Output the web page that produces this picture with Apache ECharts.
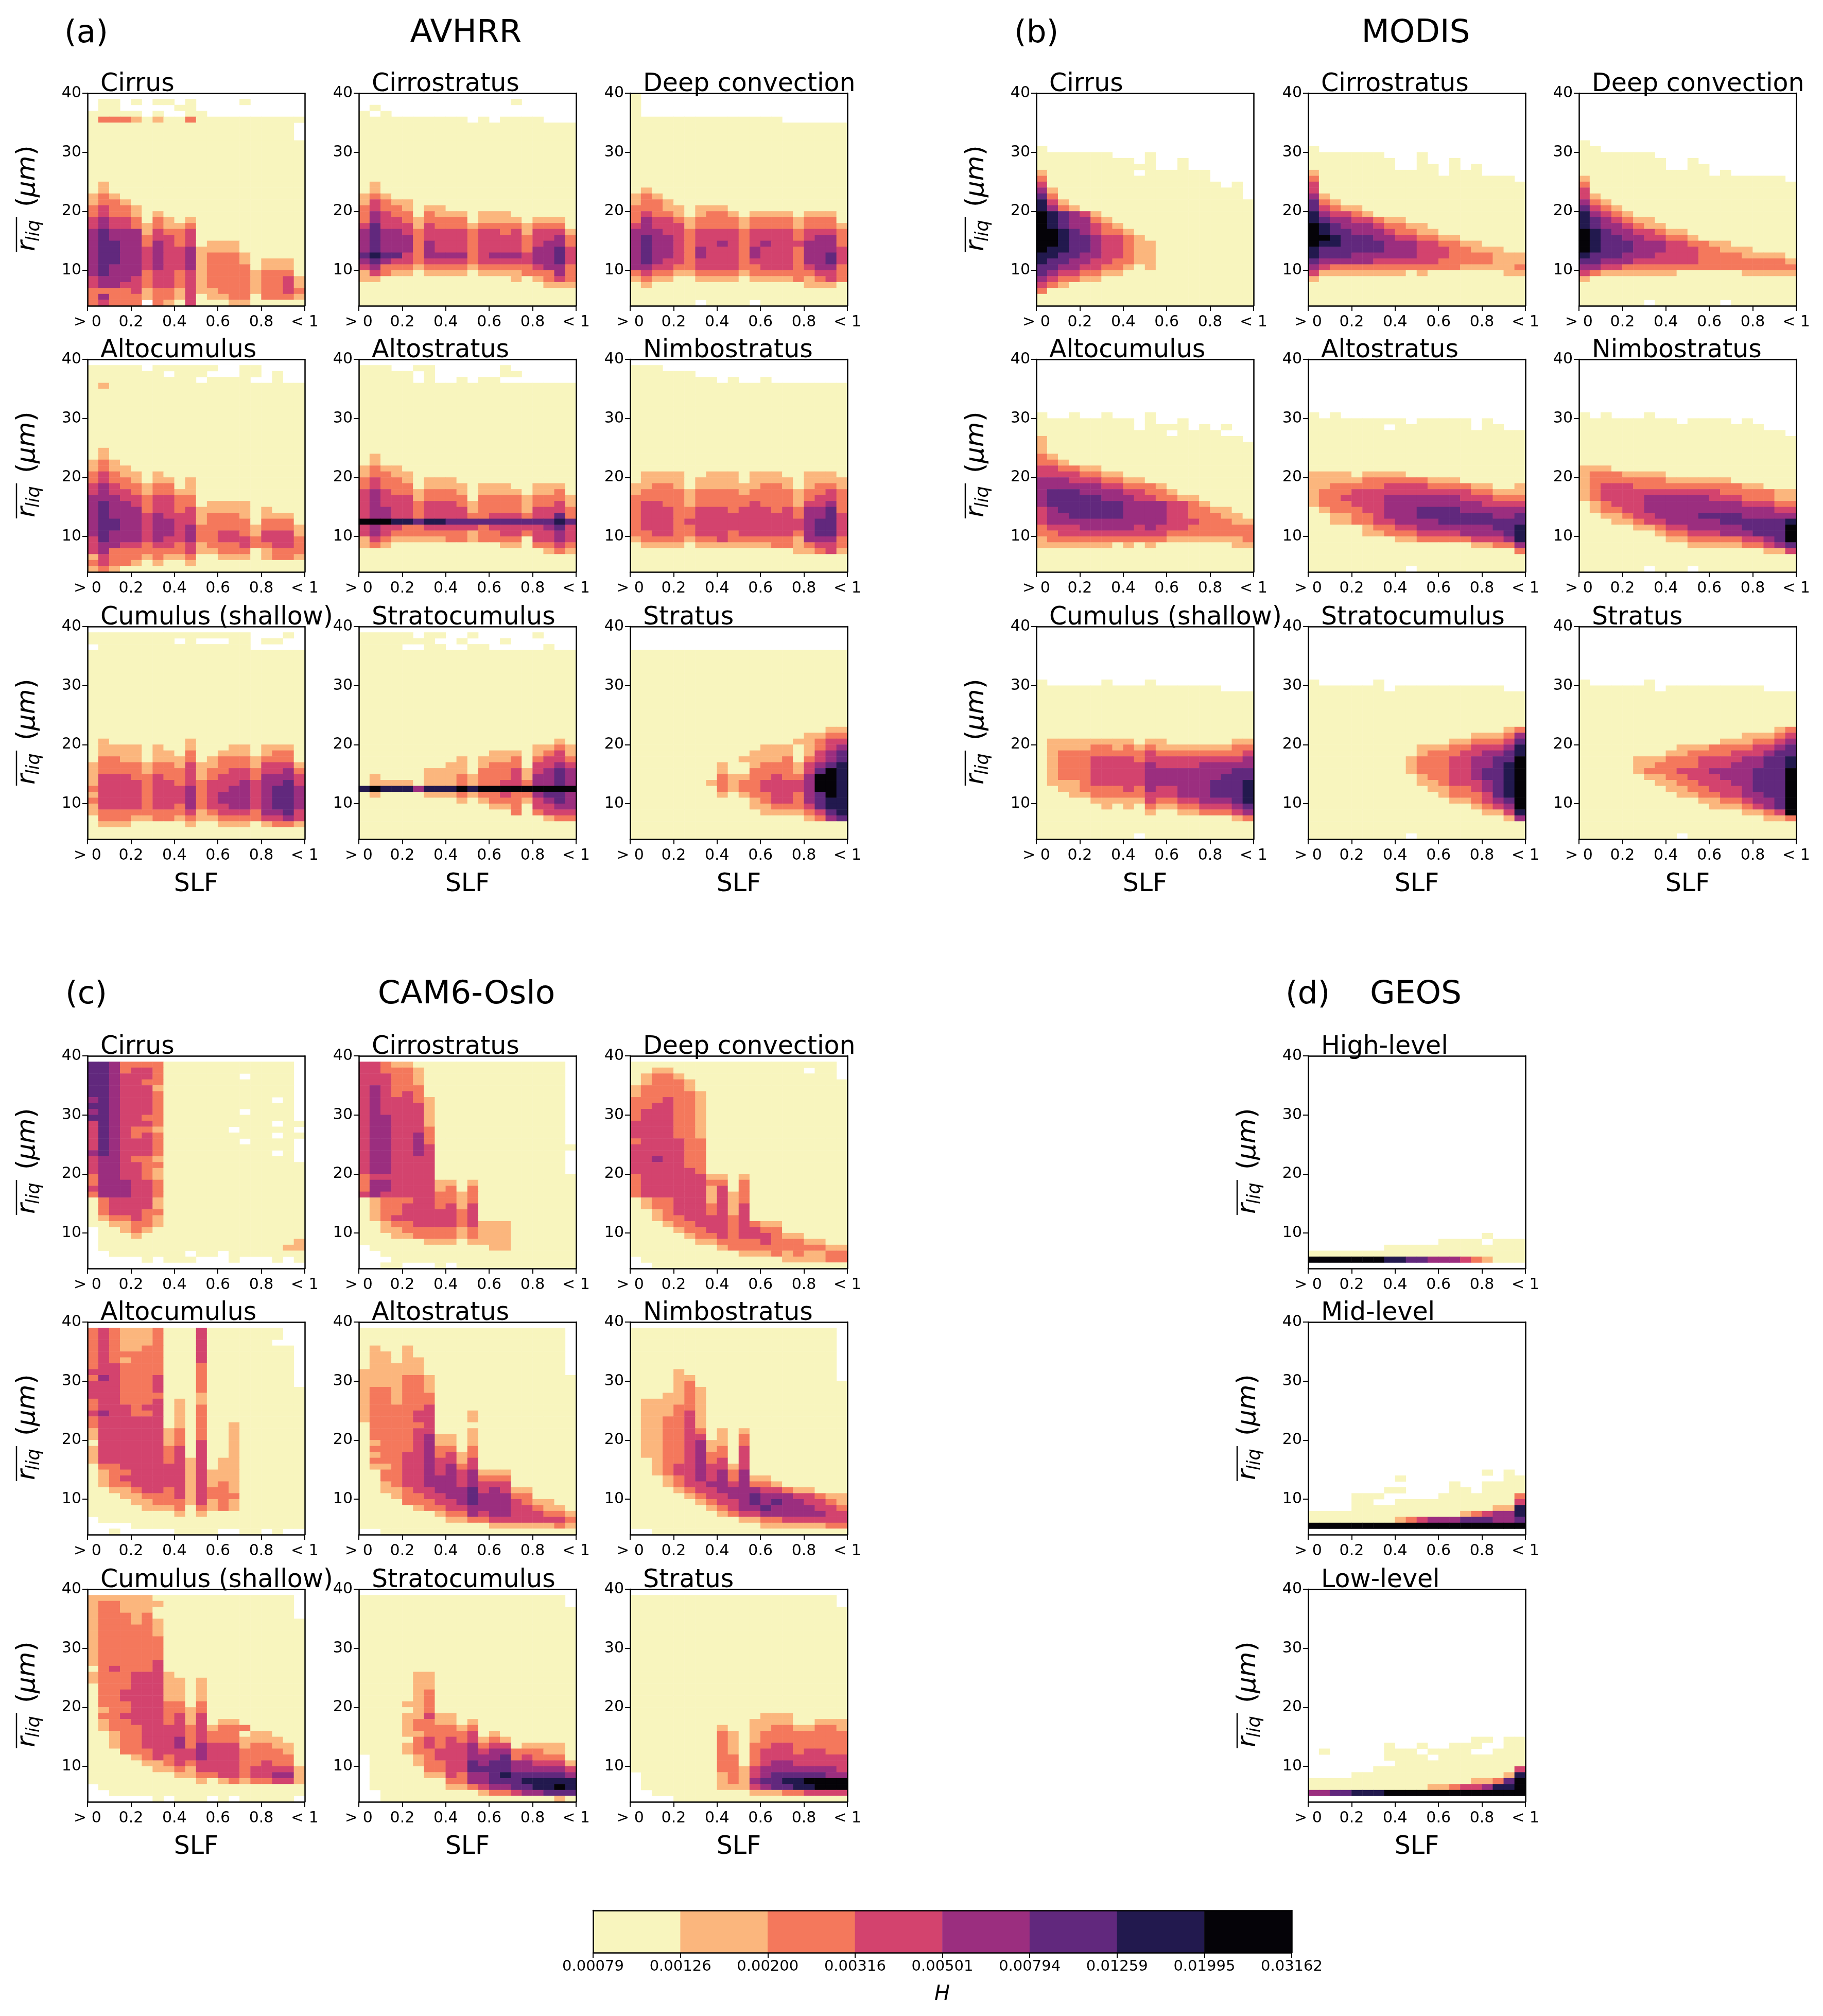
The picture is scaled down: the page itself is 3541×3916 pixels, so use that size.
<!DOCTYPE html>
<html>
<head>
<meta charset="utf-8">
<title>SLF vs rliq</title>
<script src="https://cdn.jsdelivr.net/npm/echarts@6/dist/echarts.min.js"></script>
<style>
  html, body { margin: 0; padding: 0; background: #fff; }
  #main { width: 3541px; height: 3916px; }
</style>
</head>
<body>
<div id="main"></div>
<script>
  // H colour bands
  const bandEdges = [0.00079, 0.00126, 0.002, 0.00316, 0.00501, 0.00794, 0.01259, 0.01995, 0.03162];
  const bandLabels = ['0.00079', '0.00126', '0.00200', '0.00316', '0.00501', '0.00794', '0.01259', '0.01995', '0.03162'];
  const bandColors = ['#F8F5BE', '#FBB67D', '#F4785C', '#D3436E', '#9B2E7F', '#61287D', '#22194E', '#050308'];
  // representative H for a cell in band 1..8
  const bandValues = [0.001, 0.0016, 0.0025, 0.004, 0.0063, 0.01, 0.0158, 0.0251];
  const slfTicks = ['> 0', '0.2', '0.4', '0.6', '0.8', '< 1'];
  const rliqTicks = [10, 20, 30, 40];

  // Cells: one string per 1 um row, from 39-40 down to 4-5,
  // one character per 0.05 SLF column. '.' is an empty cell, 1-8 the colour band.
  // "n|" repeats a row n times, cells left off the end of a row are band 1.
  const avhrrCirrus = ['....................', '.11.1.11.1....1.....', '.11.....11..........', '11111.1..11.........', '1333212113', '3|1111111111111111111.', '7|1',
    '12', '12', '232', '2332', '34332', '3433212', '4544313212', '4544323223', '5655524334', '5655534434', '56655354341222', '56655454452222', '566554544523332',
    '56655454452333212221', '56555454452333312221', '56555344342333323331', '45554344342333323342', '45544344342333323342', '33334233242233323343', '35333233241223313332', '34333.32141112211111'];
  const avhrrCirrostratus = ['....................', '..............1.....', '.1..................', '1.1.................', '1111111111.1.1111...', '10|1',
    '12', '12', '232', '24322', '34332122', '35433132221222', '35443233331222212221', '46444243332333323331', '56554344443443424442', '56555344443444434453', '56555354443444434553', '56555354443444435564',
    '67664355553455545564', '56544344443444445564', '45333233332333334553', '24322122221222233353', '22111111111111212343', '11111111111111111222', '3|1'];
  const avhrrDeepConvection = ['1...................', '1...................', '1...................', '1...................', '11111111111111......', '11|1',
    '12', '232', '2332', '3332212221', '34332123321222212221', '35443233332333323331', '45444233332333323332', '55544344443444434443', '56554344443444434553', '56554344543454445553', '56554354443544435554',
    '56554354443544435564', '56544344443444435564', '55443344443344434553', '34332233332333333443', '23221122221222232343', '1211111111111111222', '1', '1', '111111.1111.'];
  const avhrrAltocumulus = ['....................', '11111.111111..11....', '1111111.111...11.1..', '1111111111.1111..1..', '12', '10|1',
    '12', '12', '232', '2322', '3432212', '3433212212', '4543323312', '4544323322', '5554434433', '565543443312222', '56555344342222212', '56555454442333212221', '56655455442333313331',
    '56655455453333323332', '56555455453344324442', '46555454453344434443', '45544344342333433443', '45333333342233312333', '24333232231122212332', '3433212112', '232'];
  const avhrrAltostratus = ['....................', '111..11......1......', '11111.1......11.....', '11111.1..1.11.......', '12|1',
    '12', '12', '2322', '23322', '343321222', '34333122221222112221', '45433233321222212231', '45444233331333323332', '45444344432333323342', '45544344442333324443', '45544344443344434463',
    '88877677666666666676', '45443344444344444564', '45433333332334434454', '24322222332333314454', '23211111111112213343', '11111111111111111232', '3|1'];
  const avhrrNimbostratus = ['....................', '111.................', '111111..............', '11111111.1..1.......', '15|1',
    '12222112221222112221', '12222122221222212222', '22332122222233212332', '23333233332333323343', '33333233333333323443', '34433233333433324453', '34443344434443435563', '34443344444444435564',
    '34443444444444445664', '34443344444444445664', '33443344434444435664', '23333233433333325553', '12222122222223323443', '11111111111111122342', '3|1'];
  const avhrrCumulus = ['....................', '111111111111111...1.', '11111111.1...11.11..', '.11111111111111.....', '15|1',
    '1211111112', '12222121121112212221', '12222122131122212331', '13322122231233323331', '23333233242233324442', '23333233342334434453', '24443343342344435554', '24444344343444545564',
    '34444344453445545665', '24444344453455545665', '34444344453455545665', '24444344353445545665', '23333333342344435564', '13332233232233334454', '12221111121122212332', '2|1'];
  const avhrrStratocumulus = ['....................', '11111.11..1.....1...', '1111111..1...1......', '1111..11..11.....1..', '15|1',
    '11111111111111111121', '11111111111111112232', '11111111111122212342', '11111111121222313443', '11111111221233314454', '11111122221333424565', '12111122232333425565', '12222122232334435565',
    '78777577787888888888', '12111122232334335665', '11111111121233324565', '11111111111122314455', '11111111111111313444', '11111111111111111233', '3|1'];
  const avhrrStratus = ['4|....................', '13|1',
    '11111111111111111122', '11111111111111112233', '11111111111111122344', '11111111111122212345', '11111111111222212456', '11111111112222313456', '11111111211233324567', '11111111211333324687',
    '11111111322334335887', '11111112323344445887', '11111111323344445887', '11111111212334435687', '11111111111234435677', '11111111111223334677', '11111111111122223467', '11111111111111112356', '3|1'];

  const modisCirrus = ['9|....................', '1...................', '1111111...1.........', '111111111.1..1......', '11111111111..1......', '211111111.111111....', '3111111111111111....', '41111111111111111.1.', '5211111111111111111.', '6311111111111111111.',
    '742', '7532', '876542', '8765532', '87655432', '887654332', '8876654432', '88766544322', '87766544322', '77665544322', '76655443322', '66554433212', '65443322', '543322', '432', '3', '2|1'];
  const modisCirrostratus = ['9|....................', '1...................', '1111111...1.........', '11111111..1..1......', '11111111..11.1.1....', '211111111111.111....', '3111111111111111111.',
    '4', '4', '52', '632', '64322', '754432', '765544322', '87655543322', '876655543322', '88766655443322', '87766665554433221111', '76666665554443322211', '76665555554443333222', '65555544444433333222', '54333333333333222223', '42222222212111111122', '2', '4|1'];
  const modisDeepConvection = ['8|....................', '1...................', '11..................', '1111111.............', '11111111..1.........', '11111111..11........', '111111111111.1......', '2111111111111111111.',
    '3', '4', '42', '532', '6432', '75432', '7654322', '76554322', '8765544322', '87665544332', '87666555443322', '8766655544433222', '7666555444433332222', '66555444444333333332', '55443333333333333333', '43222222211111122222', '2', '1', '1', '1', '111111.111111.'];
  const modisAltocumulus = ['9|....................', '1..1..1...1.........', '111111111.1..1......', '111111111.1111.1.1..', '111111111111.1111...', '2111111111111111111.',
    '2', '2', '32', '332', '443322', '44443322', '5554443322', '555555443332', '5666555544332', '566666555443322', '5666666655554432', '45666666555544332211', '45566666555544333221', '45555555555544433322', '34445555545444333333', '33444444444433333333', '23333333333322222223', '22222221212111111122', '4|1'];
  const modisAltostratus = ['9|....................', '1.1.................', '111111111.11111.1...', '1111111.1111111.11..', '7|1',
    '222212222', '22222333333222', '22333334444333322112', '23334444444444433222', '23344445555555444333', '23334445555555554444', '12333445556666555555', '11223345556666666556', '11223344555566666666', '11111233445555555667', '11111223334444555567', '11111111223333344457', '11111111111111122335', '11111111111111111113', '2|1', '111111111.1111111111'];
  const modisNimbostratus = ['9|....................', '1.1...1.............', '111111111.1111.1....', '11111111111111111...', '1111111111111111111.', '5|1',
    '2221', '23332222', '23333333222222', '23444333333333322', '23444444444443333322', '23444455555544433322', '12344455555555544433', '12334455555555555544', '11223445555666655555', '11122344555556666667', '11111223445555566668', '11111112334445556668', '11111111223333344568', '11111111112222233456', '11111111111111111224', '1', '1', '111111.111.1111'];
  const modisCumulus = ['9|....................', '1.....1...1.........', '11111111111111111...', '8|1',
    '12222222212211111122', '12222332323222222233', '12333333334333333334', '12333444434444444445', '12333444445444455555', '12333444445555555566', '12333444445555555666', '12223444445555556667', '11223333435445556667', '11122333334445556667', '11111222224334455567', '11111121213223344456', '11111111112112233345', '11111111111111111123', '2|1', '111111111.1111111111'];
  const modisStratocumulus = ['9|....................', '1.....1.............', '1111111.1111111111..', '6|1',
    '11111111111111111123', '11111111111111122235', '11111111111112233346', '11111111112223344457', '11111111112333445567', '11111111123334455668', '11111111123334455678', '11111111123334456678', '11111111112334456678', '11111111112234445678', '11111111111223345678', '11111111111123334678', '11111111111112234568', '11111111111111123458', '11111111111111112247', '11111111111111111125', '2|1', '111111111.1111111111'];
  const modisStratus = ['9|....................', '1.....1.............', '1111111.111111111...', '6|1',
    '11111111111111111123', '11111111111111122234', '11111111111112223345', '11111111122233334456', '11111111223333444566', '11111222333444455667', '11111223333444555667', '11111233344455556668', '11111122334445556668', '11111112233444556668', '11111111223344456668', '11111111122334455668', '11111111111223345568', '11111111111122234568', '11111111111111122348', '11111111111111111223', '2|1', '111111111.1111111111'];

  const camCirrus = ['....................', '6653333111111111111.', '6653443111111111111.', '66544431111111.1111.', '6654433111111111111.', '6654442111111111111.', '6654443111111111111.', '56544431111111111.1.', '6654443111111111111.', '56544431111111.1111.', '6654433111111111111.', '46544431111111111.11', '4654332111111.11111.', '46543431111111111.11', '46544431111111.1111.', '4654443111111111111.', '56544431111111111.1.', '4554332111111111111.',
    '4554433', '4554432', '3554432', '3555443', '4555443', '3555443', '1344442', '1344442', '1344433', '1233432', '1122332', '.112321', '.111211', '.1111111111111111112', '.1111111111111111122', '..1111111.11.1111111', '.....1.111...1...1.1', '....................'];
  const camCirrostratus = ['....................', '4432211111111111111.', '4433321111111111111.', '4443321111111111111.', '4443321111111111111.', '4543331111111111111.', '4543431111111111111.', '4544432111111111111.', '4544442111111111111.', '4544442111111111111.', '4554442111111111111.', '4554442111111111111.', '4554443111111111111.', '4554453111111111111.', '4554453111111111111.', '4554454', '4554454111111111111.', '4554444111111111111.', '4554444111111111111.', '4554444111111111111.',
    '3444444', '35544442212', '35544442313', '45444443323', '12333443323', '12334443424', '12334444434', '12344444434', '11233444434222', '11223333323222', '11122333323222', '11111122212222', '.1111111111122', '..', '...1', '..11...1.'];
  const camDeepConvection = ['....................', '1111111111111111111.', '1122111111111111.11.', '1233211111111111111.', '1233321', '2333321', '2333332', '3334332', '3344332', '3444332', '3444332', '4444332', '4444332', '4444332', '3444433', '4444433', '4444433', '4454433', '4444433', '4444443',
    '34444442212', '34444443313', '34444442413', '34444442423', '12334442423', '12334443424', '11234443424', '11233444434', '11123344434322', '11112334434433', '11111233434443221111', '11111122333343332211', '11111111233333333322', '11111111112223232233', '.1111111111111222233', '..111'];
  const camAltocumulus = ['....................', '343222311141111111..', '343222311141111111..', '34322231114111111...', '3432233111411111111.', '3433333111411111111.', '3432333111411111111.', '3443333111311111111.', '4443333111311111111.', '3543334111311111111.', '4443334111311111111.',
    '44433341113', '44433331112', '34433341212', '34443441213', '45443341213', '34444441213', '34444441213112', '24444442313112', '24444442313112', '14444442314112', '24444443414112', '24444443414112', '24444443424122', '13344444424122', '12334444424222', '12344444424222', '12334444424232', '11223443424332', '11122333424333', '11112233324232', '11111222313232', '11111111212', '.', '....', '..1.....1111..11.1..'];
  const camAltostratus = ['....................', '1111111111111111111.', '1111111111111111111.', '1111111111111111111.', '1211211111111111111.', '1221211111111111111.', '1221221111111111111.', '1222221111111111111.', '2222221111111111111.',
    '2222332', '2222332', '2332332', '2332333', '2332333', '2333334', '23333441112', '23333441112', '1333334', '13333441112', '13333452212', '12333452212', '13333453313', '12334453423', '13334454424', '12234454534', '11334454545222', '11334455545333', '11234455545444', '1122344555645422', '1112334455655533', '111133344565554322', '11111233445555443221', '11111112335455444332', '11111111223344444443', '11111111111122222232', '..'];
  const camNimbostratus = ['....................', '7|1111111111111111111.', '1111211111111111111.', '1111221111111111111.', '1111231', '1111232', '1112232', '1222232', '1222332', '1222342', '1223342', '1223342', '12233431212', '12233441213', '12233452213', '12233452314', '12233453314', '11233453414', '11234454424', '11234454535', '1112345453522', '11123445545332', '11112344555544322', '11111234455655544322', '11111123445656554432', '11111112345565555443', '11111111234455555544', '11111111112233444444', '11111111111122222233', '..'];
  const camCumulus = ['....................', '2222221111111111111.', '2332222111111111111.', '2332221111111111111.', '2333231111111111111.', '2333232', '2333332', '2333332', '2333333', '3|2333333', '2333334', '1343334', '23334442', '23334442212', '13334442212', '13344442212', '13344442212', '13334443313', '12334443323', '13344443424', '12334443424122', '123334444342333', '11233444434333122', '112334445343332222', '1123344453544423322', '1113334444544433332', '11112343445444333331', '11111223434444334331', '11111122324444344442', '11111111223344344552', '11111111112123233442', '.', '..', '......1.111.1.11111.'];
  const camStratocumulus = ['....................', '1111111111111111111.', '1111111111111111111.', '11|1', '1111122', '1111122', '1111122', '1111123', '1111123', '1111223', '1111123', '111122422', '11112332212', '11112333323', '1111223333412', '11111343434232', '1111234344534412222', '1111233444545533322', '.111123444555634333', '.1111233446566554442', '.1111133446666555554', '.1111122435567666665', '.1111111335566677777', '.1111111223455667787', '..111111111233455666', '..111111111111111121'];
  const camStratus = ['....................', '1111111111111111111.', '1111111111111111111.', '18|1',
    '11111111111122211111', '11111111111222211222', '11111111211223322332', '11111111321233333333', '11111111321233333333', '11111111321334433333', '11111111321344434433', '11111111331344444444', '11111111331345544444', '11111111332455555554', '.1111111232456666655', '.1111111232566778888', '.1111111222456677888', '..111111111222334444', '....1'];

  const geosHigh = ['30|....................', '................1...', '............1111.111', '.......1111111111111', '11111111111111111111', '88888887766555432111', '....................'];
  const geosMid = ['25|....................', '................1.1.', '........1.........11', '.............1..1111', '.......11....11.1111', '....111.....11111113', '....11..111111111114', '....1111111111111227', '11111111111111234557', '11111111234555666556', '88888888888888888888', '....................'];
  const geosLow = ['25|....................', '...............11.11', '.......1..1..111..11', '.1.....111.1111..111', '.......1111.11111111', '........111111111111', '......11111111111114', '....1111111111111127', '11111111111111122368', '11111111111223445778', '55667778888888888888', '....................'];

  const cloudTypes = ['Cirrus', 'Cirrostratus', 'Deep convection', 'Altocumulus', 'Altostratus', 'Nimbostratus', 'Cumulus (shallow)', 'Stratocumulus', 'Stratus'];
  const geosTypes = ['High-level', 'Mid-level', 'Low-level'];
  const avhrrPanels = [avhrrCirrus, avhrrCirrostratus, avhrrDeepConvection, avhrrAltocumulus, avhrrAltostratus, avhrrNimbostratus, avhrrCumulus, avhrrStratocumulus, avhrrStratus];
  const modisPanels = [modisCirrus, modisCirrostratus, modisDeepConvection, modisAltocumulus, modisAltostratus, modisNimbostratus, modisCumulus, modisStratocumulus, modisStratus];
  const camPanels = [camCirrus, camCirrostratus, camDeepConvection, camAltocumulus, camAltostratus, camNimbostratus, camCumulus, camStratocumulus, camStratus];
  const geosPanels = [geosHigh, geosMid, geosLow];

  // layout in page pixels
  const panelW = 422, panelH = 413;
  const leftCols = [170, 697, 1224], rightCols = [2013, 2541, 3067];
  const topRows = [181, 698, 1217], lowRows = [2051, 2568, 3087];
  const font = 'DejaVu Sans';

  const binIndex = Array.from({ length: 20 }, (_, i) => i);
  const rowIndex = Array.from({ length: 36 }, (_, i) => i);

  function readCells(spec) {
    let rows = [];
    spec.forEach(s => {
      let n = 1, r = s;
      if (s.indexOf('|') > 0) {
        n = +s.split('|')[0];
        r = s.split('|')[1];
      }
      r = r.padEnd(20, '1');
      for (let k = 0; k < n; k++) rows.push(r);
    });
    if (rows.length !== 36) console.error('bad row count', rows.length, spec[0]);
    let cells = [];
    rows.forEach((row, i) => {
      for (let j = 0; j < 20; j++) {
        if (row[j] !== '.') cells.push([j, 35 - i, bandValues[+row[j] - 1]]);
      }
    });
    return cells;
  }

  let grids = [], xAxes = [], yAxes = [], series = [], graphics = [];

  // text placed by its baseline
  function addText(text, x, baseline, size, align, italic) {
    graphics.push({
      type: 'text', z: 20,
      style: {
        text: text, x: x, y: baseline - 0.346 * size, fill: '#000',
        font: (italic ? 'italic ' : '') + size + 'px "' + font + '"',
        textAlign: align || 'left', textVerticalAlign: 'middle'
      }
    });
  }

  function addYLabel(left, top) {
    let t = (size, italic) => (italic ? 'italic ' : '') + size + 'px "' + font + '"';
    let part = (text, x, y, size, italic) => ({
      type: 'text',
      style: { text: text, x: x, y: y - 0.346 * size, fill: '#000', font: t(size, italic), textVerticalAlign: 'middle' }
    });
    graphics.push({
      type: 'group', z: 20, x: left - 99, y: top + 309, rotation: Math.PI / 2,
      children: [
        part('r', 2, 0, 50, true),
        part('liq', 21, 8, 35, true),
        { type: 'line', shape: { x1: 0, y1: -39, x2: 68, y2: -39 }, style: { stroke: '#000', lineWidth: 2.5 } },
        part('(', 88, 0, 50, false),
        part('μm', 107, 0, 50, true),
        part(')', 188, 0, 50, false)
      ]
    });
  }

  function addPanel(spec, name, left, top, withY, withX) {
    let i = grids.length;
    let line = { show: true, onZero: false, lineStyle: { color: '#000', width: 2.5 } };
    grids.push({ left: left, top: top, width: panelW, height: panelH });
    // band axes carry the cells and draw the top and right spines
    xAxes.push({
      type: 'category', gridIndex: i, position: 'top', data: binIndex, z: 5,
      axisLine: line, axisTick: { show: false }, axisLabel: { show: false }, splitLine: { show: false }
    });
    xAxes.push({
      type: 'value', gridIndex: i, position: 'bottom', min: 0, max: 1, interval: 0.2, z: 5,
      name: withX ? 'SLF' : '', nameLocation: 'middle', nameGap: 64,
      nameTextStyle: { fontFamily: font, fontSize: 49, color: '#000' },
      axisLine: line, axisTick: { length: 10, lineStyle: { color: '#000', width: 2 } }, splitLine: { show: false },
      axisLabel: {
        margin: 17, fontFamily: font, fontSize: 30, color: '#000', showMinLabel: true, showMaxLabel: true,
        formatter: v => slfTicks[Math.round(v * 5)]
      }
    });
    yAxes.push({
      type: 'category', gridIndex: i, position: 'right', data: rowIndex, z: 5,
      axisLine: line, axisTick: { show: false }, axisLabel: { show: false }, splitLine: { show: false }
    });
    yAxes.push({
      type: 'value', gridIndex: i, position: 'left', min: 4, max: 40, z: 5,
      axisLine: line, splitLine: { show: false },
      axisTick: { length: 10, customValues: rliqTicks, lineStyle: { color: '#000', width: 2 } },
      axisLabel: { margin: 12, fontFamily: font, fontSize: 30, color: '#000', customValues: rliqTicks }
    });
    series.push({
      type: 'heatmap', xAxisIndex: i * 2, yAxisIndex: i * 2, data: readCells(spec), z: 2,
      progressive: 0, silent: true, itemStyle: { borderWidth: 0 }
    });
    addText(name, left + 25, top, 49);
    if (withY) addYLabel(left, top);
  }

  function addBlock(panels, names, cols, rows) {
    panels.forEach((spec, k) => {
      let c = names.length === 9 ? k % 3 : 0;
      let r = names.length === 9 ? Math.floor(k / 3) : k;
      addPanel(spec, names[k], cols[c], rows[r], c === 0, r === 2);
    });
  }

  addBlock(avhrrPanels, cloudTypes, leftCols, topRows);
  addBlock(modisPanels, cloudTypes, rightCols, topRows);
  addBlock(camPanels, cloudTypes, leftCols, lowRows);
  addBlock(geosPanels, geosTypes, [rightCols[1]], lowRows);

  // colour bar
  let cbIndex = grids.length;
  grids.push({ left: 1152, top: 3711, width: 1357, height: 82 });
  let cbLine = { show: true, onZero: false, lineStyle: { color: '#000', width: 2.5 } };
  xAxes.push({
    type: 'category', gridIndex: cbIndex, position: 'top', data: bandColors.map((c, k) => k), z: 5,
    axisLine: cbLine, axisTick: { show: false }, axisLabel: { show: false }
  });
  xAxes.push({
    type: 'value', gridIndex: cbIndex, position: 'bottom', min: 0, max: 8, interval: 1, z: 5,
    axisLine: cbLine, splitLine: { show: false },
    axisTick: { length: 10, lineStyle: { color: '#000', width: 2 } },
    axisLabel: { margin: 13, fontFamily: font, fontSize: 29, color: '#000', showMinLabel: true, showMaxLabel: true, formatter: v => bandLabels[v] }
  });
  yAxes.push({
    type: 'category', gridIndex: cbIndex, position: 'right', data: [0], z: 5,
    axisLine: cbLine, axisTick: { show: false }, axisLabel: { show: false }
  });
  yAxes.push({
    type: 'value', gridIndex: cbIndex, position: 'left', min: 0, max: 1, z: 5,
    axisLine: cbLine, axisTick: { show: false }, axisLabel: { show: false }, splitLine: { show: false }
  });
  series.push({
    type: 'heatmap', xAxisIndex: cbIndex * 2, yAxisIndex: cbIndex * 2, z: 2, progressive: 0, silent: true,
    data: bandValues.map((v, k) => [k, 0, v])
  });

  // block headings
  addText('(a)', 125, 87, 61);
  addText('AVHRR', 905, 87, 63, 'center');
  addText('(b)', 1970, 87, 61);
  addText('MODIS', 2750, 87, 63, 'center');
  addText('(c)', 127, 1954, 61);
  addText('CAM6-Oslo', 906, 1954, 63, 'center');
  addText('(d)', 2497, 1954, 61);
  addText('GEOS', 2750, 1954, 63, 'center');
  addText('H', 1830, 3888, 40, 'center', true);

  let pieces = bandColors.map((c, k) => ({ gte: bandEdges[k], lt: bandEdges[k + 1], color: c }));

  let myChart = echarts.init(document.getElementById('main'));
  myChart.setOption({
    animation: false,
    backgroundColor: '#fff',
    grid: grids,
    xAxis: xAxes,
    yAxis: yAxes,
    visualMap: { type: 'piecewise', show: false, dimension: 2, seriesIndex: series.map((s, k) => k), pieces: pieces },
    series: series,
    graphic: { elements: graphics }
  });
</script>
</body>
</html>
